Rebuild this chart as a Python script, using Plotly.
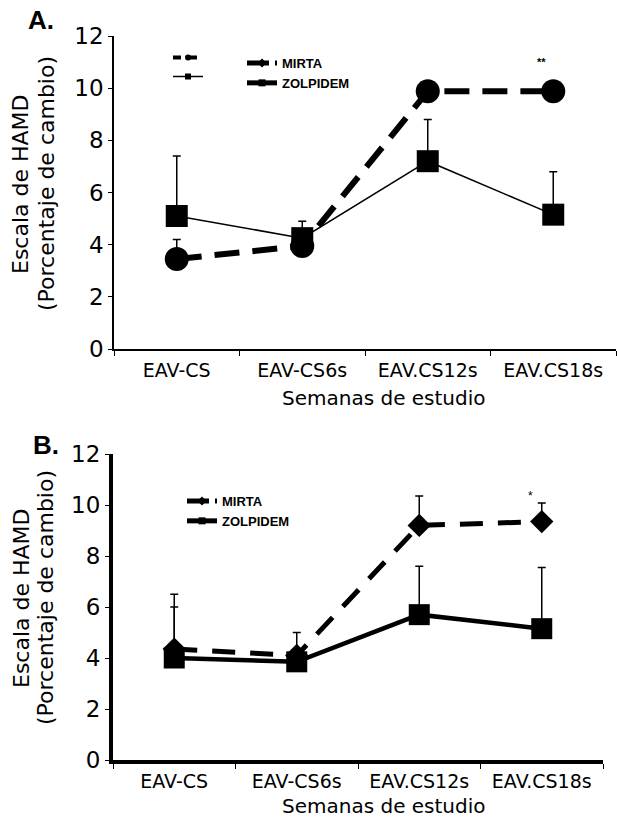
import plotly.graph_objects as go

# ---------------- data ----------------
categories = ["EAV-CS", "EAV-CS6s", "EAV.CS12s", "EAV.CS18s"]
y_ticks = [0, 2, 4, 6, 8, 10, 12]

# Panel A
a_mirta = [3.45, 3.95, 9.88, 9.88]
a_mirta_err = [0.75, 0.0, 0.0, 0.0]
a_zolp = [5.1, 4.25, 7.2, 5.15]
a_zolp_err = [2.3, 0.65, 1.6, 1.65]

# Panel B
b_mirta = [4.35, 4.1, 9.2, 9.35]
b_mirta_err = [1.65, 0.9, 1.15, 0.73]
b_zolp = [4.0, 3.85, 5.7, 5.15]
b_zolp_err = [2.5, 0.0, 1.9, 2.4]

series_names = ["MIRTA", "ZOLPIDEM"]
y_title_1 = "Escala de HAMD"
y_title_2 = "(Porcentaje de cambio)"
x_title = "Semanas de estudio"

# ---------------- layout helpers ----------------
W, H = 617, 818
def px(x):
    return x / W
def py(y):
    return 1 - y / H

FONT = "DejaVu Sans"
LEGFONT = "Liberation Sans, Arial, sans-serif"

fig = go.Figure()

def err(vals):
    return dict(type="data", symmetric=False, array=vals, arrayminus=[0] * len(vals),
                color="black", thickness=1.5, width=4)

# ---- Panel A traces ----
fig.add_trace(go.Scatter(x=categories, y=a_zolp, mode="lines+markers", name=series_names[1],
                         line=dict(color="black", width=1.5),
                         marker=dict(symbol="square", size=22, color="black"),
                         error_y=err(a_zolp_err), xaxis="x", yaxis="y", showlegend=False))
fig.add_trace(go.Scatter(x=categories, y=a_mirta, mode="lines+markers", name=series_names[0],
                         line=dict(color="black", width=6, dash="25px,13px"),
                         marker=dict(symbol="circle", size=24, color="black"),
                         error_y=err(a_mirta_err), xaxis="x", yaxis="y", showlegend=False))

# ---- Panel B traces ----
fig.add_trace(go.Scatter(x=categories, y=b_mirta, mode="lines+markers", name=series_names[0],
                         line=dict(color="black", width=5, dash="23px,15px"),
                         marker=dict(symbol="diamond", size=18, color="black"),
                         error_y=err(b_mirta_err), xaxis="x2", yaxis="y2", showlegend=False))
fig.add_trace(go.Scatter(x=categories, y=b_zolp, mode="lines+markers", name=series_names[1],
                         line=dict(color="black", width=4.5),
                         marker=dict(symbol="square", size=21, color="black"),
                         error_y=err(b_zolp_err), xaxis="x2", yaxis="y2", showlegend=False))

# ---- legend keys (legend-only entries) ----
def key(name, dash, width, symbol, legend, xa, ya, msize=7):
    fig.add_trace(go.Scatter(x=[None], y=[None], mode="lines+markers", name=name,
                             line=dict(color="black", width=width, dash=dash),
                             marker=dict(symbol=symbol, size=msize, color="black"),
                             legend=legend, xaxis=xa, yaxis=ya, showlegend=True))

# Panel A labelled legend
key(series_names[0], "22px,6px", 5, "diamond", "legend", "x", "y")
key(series_names[1], "solid", 5, "square", "legend", "x", "y")
# Panel A small unlabelled key
key(" ", "8px,8px", 4, "circle", "legend3", "x", "y", msize=6)
key("  ", "solid", 1.5, "square", "legend3", "x", "y", msize=6)
# Panel B legend
key(series_names[0], "22px,6px", 5, "diamond", "legend2", "x2", "y2")
key(series_names[1], "solid", 5, "square", "legend2", "x2", "y2")

axis_common = dict(showgrid=False, zeroline=False, color="black", linecolor="black",
                   tickcolor="black", ticks="outside", showline=True, mirror=False,
                   automargin=False)

xcommon = dict(type="category", categoryorder="array", categoryarray=categories,
               range=[-0.5, 3.5], tickson="boundaries", ticklen=5, tickwidth=1,
               tickfont=dict(family=FONT, size=19, color="black"),
               **axis_common)
ycommon = dict(range=[0, 12], tickvals=y_ticks, ticklen=4, tickwidth=1,
               tickfont=dict(family=FONT, size=23, color="black"), **axis_common)

legfont = dict(family=LEGFONT, size=13, color="black", weight=700)
fig.update_layout(
    template="none",
    width=W, height=H, margin=dict(l=0, r=0, t=0, b=0, pad=0, autoexpand=False),
    paper_bgcolor="white", plot_bgcolor="white",
    xaxis=dict(domain=[px(114), px(616)], anchor="y", linewidth=1.5,
               ticklabelstandoff=3, **xcommon),
    yaxis=dict(domain=[py(349), py(36)], anchor="x", linewidth=1.5, **ycommon),
    xaxis2=dict(domain=[px(113), px(603)], anchor="y2", linewidth=4,
                ticklabelstandoff=1, **xcommon),
    yaxis2=dict(domain=[py(760), py(454)], anchor="x2", linewidth=4, **ycommon),
    legend=dict(x=px(242), y=py(48), xanchor="left", yanchor="top", font=legfont,
                bgcolor="rgba(0,0,0,0)", tracegroupgap=0),
    legend2=dict(x=px(182), y=py(486), xanchor="left", yanchor="top", font=legfont,
                 bgcolor="rgba(0,0,0,0)", tracegroupgap=0),
    legend3=dict(x=px(168), y=py(43), xanchor="left", yanchor="top",
                 font=dict(family=LEGFONT, size=12, color="black"),
                 bgcolor="rgba(0,0,0,0)", tracegroupgap=0),
    showlegend=True,
)

ann = []
# panel letters
ann.append(dict(text="<b>A.</b>", x=px(26), y=py(20), xref="paper", yref="paper",
                xanchor="left", yanchor="middle", showarrow=False,
                font=dict(family="Liberation Sans, Arial, sans-serif", size=26, color="black")))
ann.append(dict(text="<b>B.</b>", x=px(31), y=py(445), xref="paper", yref="paper",
                xanchor="left", yanchor="middle", showarrow=False,
                font=dict(family="Liberation Sans, Arial, sans-serif", size=26, color="black")))
# y titles
for (x1, x2, yc) in [(20, 46, 184), (21, 45, 598)]:
    ann.append(dict(text=y_title_1, x=px(x1), y=py(yc), xref="paper", yref="paper",
                    textangle=-90, xanchor="center", yanchor="middle", showarrow=False,
                    font=dict(family=FONT, size=22, color="black")))
    ann.append(dict(text=y_title_2, x=px(x2), y=py(yc), xref="paper", yref="paper",
                    textangle=-90, xanchor="center", yanchor="middle", showarrow=False,
                    font=dict(family=FONT, size=22, color="black")))
# x titles
for yc in [398, 806]:
    ann.append(dict(text=x_title, x=px(384), y=py(yc), xref="paper", yref="paper",
                    xanchor="center", yanchor="middle", showarrow=False,
                    font=dict(family=FONT, size=20, color="black")))
# significance marks
ann.append(dict(text="<b>**</b>", x=categories[3], y=11.0, xref="x", yref="y", xshift=-12,
                showarrow=False, font=dict(family="Liberation Sans", size=11, color="black")))
ann.append(dict(text="*", x=categories[3], y=10.35, xref="x2", yref="y2", xshift=-11,
                showarrow=False, font=dict(family="Liberation Sans", size=12, color="black")))
fig.update_layout(annotations=ann)

fig.write_html("out.html", config={"displayModeBar": False},
               post_script="document.body.style.margin='0';document.body.style.padding='0';")
